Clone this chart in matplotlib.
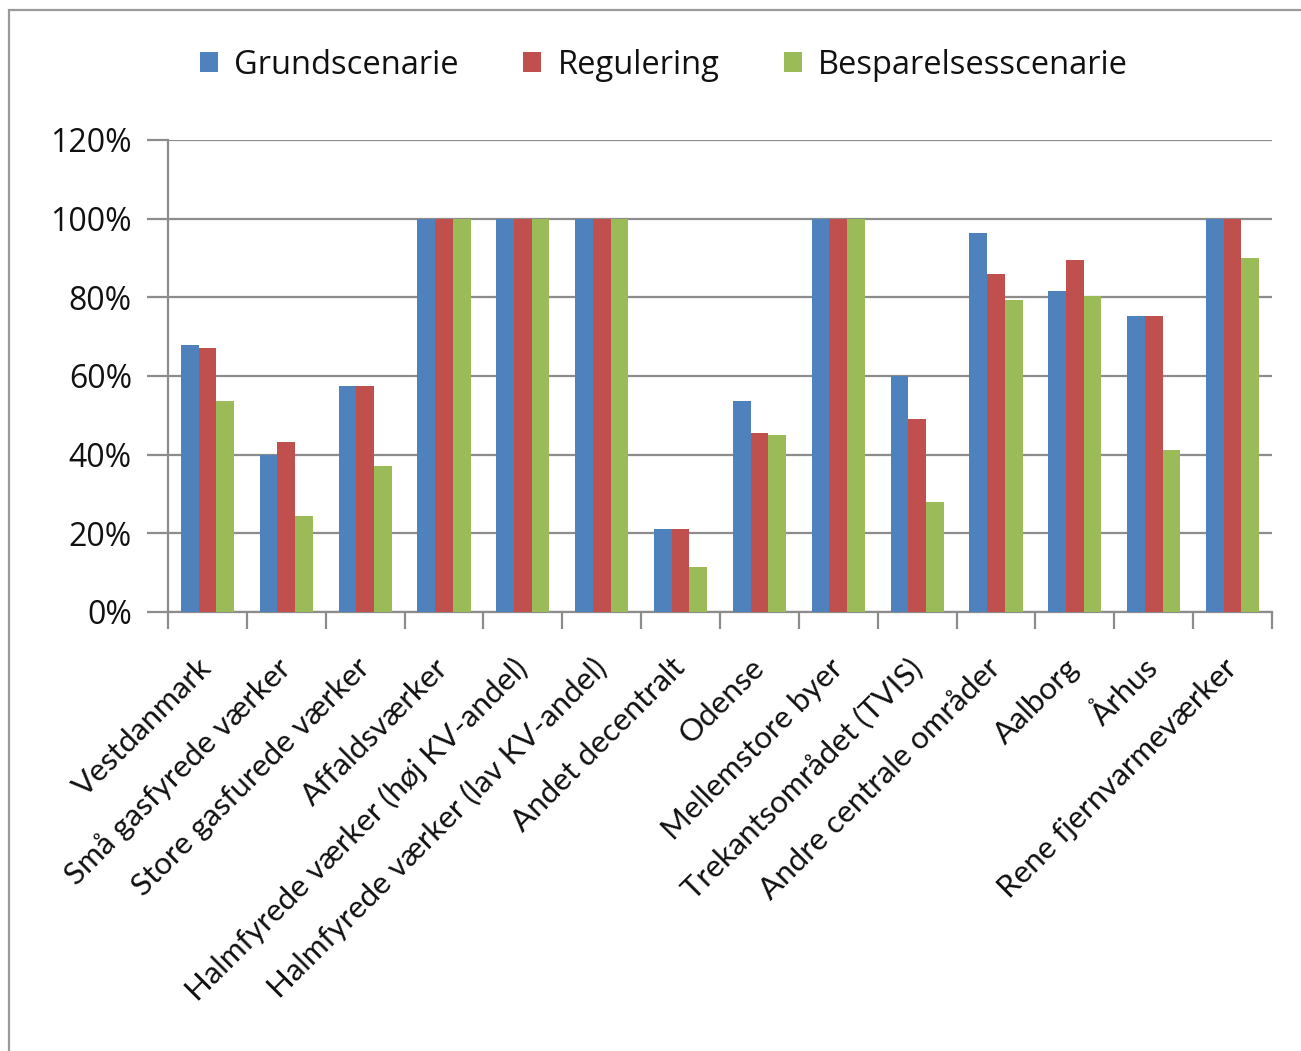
import matplotlib
matplotlib.use("Agg")
import matplotlib.pyplot as plt
import numpy as np
from matplotlib.patches import Rectangle

categories = [
    "Vestdanmark",
    "Små gasfyrede værker",
    "Store gasfurede værker",
    "Affaldsværker",
    "Halmfyrede værker (høj KV-andel)",
    "Halmfyrede værker (lav KV-andel)",
    "Andet decentralt",
    "Odense",
    "Mellemstore byer",
    "Trekantsområdet (TVIS)",
    "Andre centrale områder",
    "Aalborg",
    "Århus",
    "Rene fjernvarmeværker",
]

grundscenarie = [67.8, 39.8, 57.4, 100, 100, 100, 21.2, 53.7, 100, 60.1, 96.3, 81.5, 75.2, 100]
regulering = [67.1, 43.3, 57.4, 100, 100, 100, 21.2, 45.6, 100, 49.0, 86.0, 89.4, 75.2, 100]
besparelse = [53.6, 24.5, 37.0, 100, 100, 100, 11.5, 45.0, 100, 28.0, 79.2, 80.3, 41.2, 90.0]

series_names = ["Grundscenarie", "Regulering", "Besparelsesscenarie"]
series_colors = ["#4F81BD", "#C0504D", "#9BBB59"]

y_ticks = [0, 20, 40, 60, 80, 100, 120]
y_tick_labels = ["0%", "20%", "40%", "60%", "80%", "100%", "120%"]

W, H = 1301, 1051
fig = plt.figure(figsize=(W / 100, H / 100), dpi=100)
fig.patch.set_facecolor("white")

# outer chart frame (left and top edges visible)
fig.add_artist(Rectangle((8.5 / W, -0.05), 1.2, (H - 9.5) / H + 0.05,
                         transform=fig.transFigure, fill=False,
                         edgecolor="#9a9a9a", linewidth=1.6))

left, right, top, bottom = 168, 1272, 140, 612
ax = fig.add_axes([left / W, 1 - bottom / H, (right - left) / W, (bottom - top) / H])

x = np.arange(len(categories))
bw = 0.225
for i, (vals, name, col) in enumerate(zip([grundscenarie, regulering, besparelse],
                                           series_names, series_colors)):
    ax.bar(x + (i - 1) * bw, vals, width=bw, color=col, label=name,
           edgecolor="none", zorder=3)

ax.set_xlim(-0.5, len(categories) - 0.5)
ax.set_ylim(0, 120)

grid_col = "#8c8c8c"
ax.set_yticks(y_ticks)
ax.set_yticklabels(y_tick_labels, fontfamily="Open Sans", fontsize=23,
                   color="#111111")
ax.yaxis.grid(True, color=grid_col, linewidth=1.6, zorder=0)
ax.set_axisbelow(True)

# category ticks sit between groups
ax.set_xticks(np.arange(-0.5, len(categories), 1.0), minor=False)
ax.set_xticklabels([])
ax.set_xticks(x, minor=True)
ax.set_xticklabels(categories, minor=True, rotation=45, ha="right", va="center",
                   rotation_mode="anchor", fontfamily="Lato", fontsize=22.5,
                   color="#111111")
ax.tick_params(axis="x", which="minor", length=0, pad=37)
ax.tick_params(axis="x", which="major", length=12, width=1.6, color=grid_col,
               direction="out")
ax.tick_params(axis="y", length=15, width=1.6, color=grid_col, pad=11)

for s in ["top", "right"]:
    ax.spines[s].set_visible(False)
for s in ["left", "bottom"]:
    ax.spines[s].set_color(grid_col)
    ax.spines[s].set_linewidth(1.6)

leg = fig.legend(loc="center", bbox_to_anchor=(664 / W, 1 - 65 / H), ncol=3,
                 frameon=False, prop={"family": "Open Sans", "size": 23.5},
                 handlelength=0.55, handleheight=0.55, handletextpad=0.5,
                 columnspacing=1.97)
for t in leg.get_texts():
    t.set_color("#111111")

fig.savefig("out.png", dpi=100, facecolor="white")
